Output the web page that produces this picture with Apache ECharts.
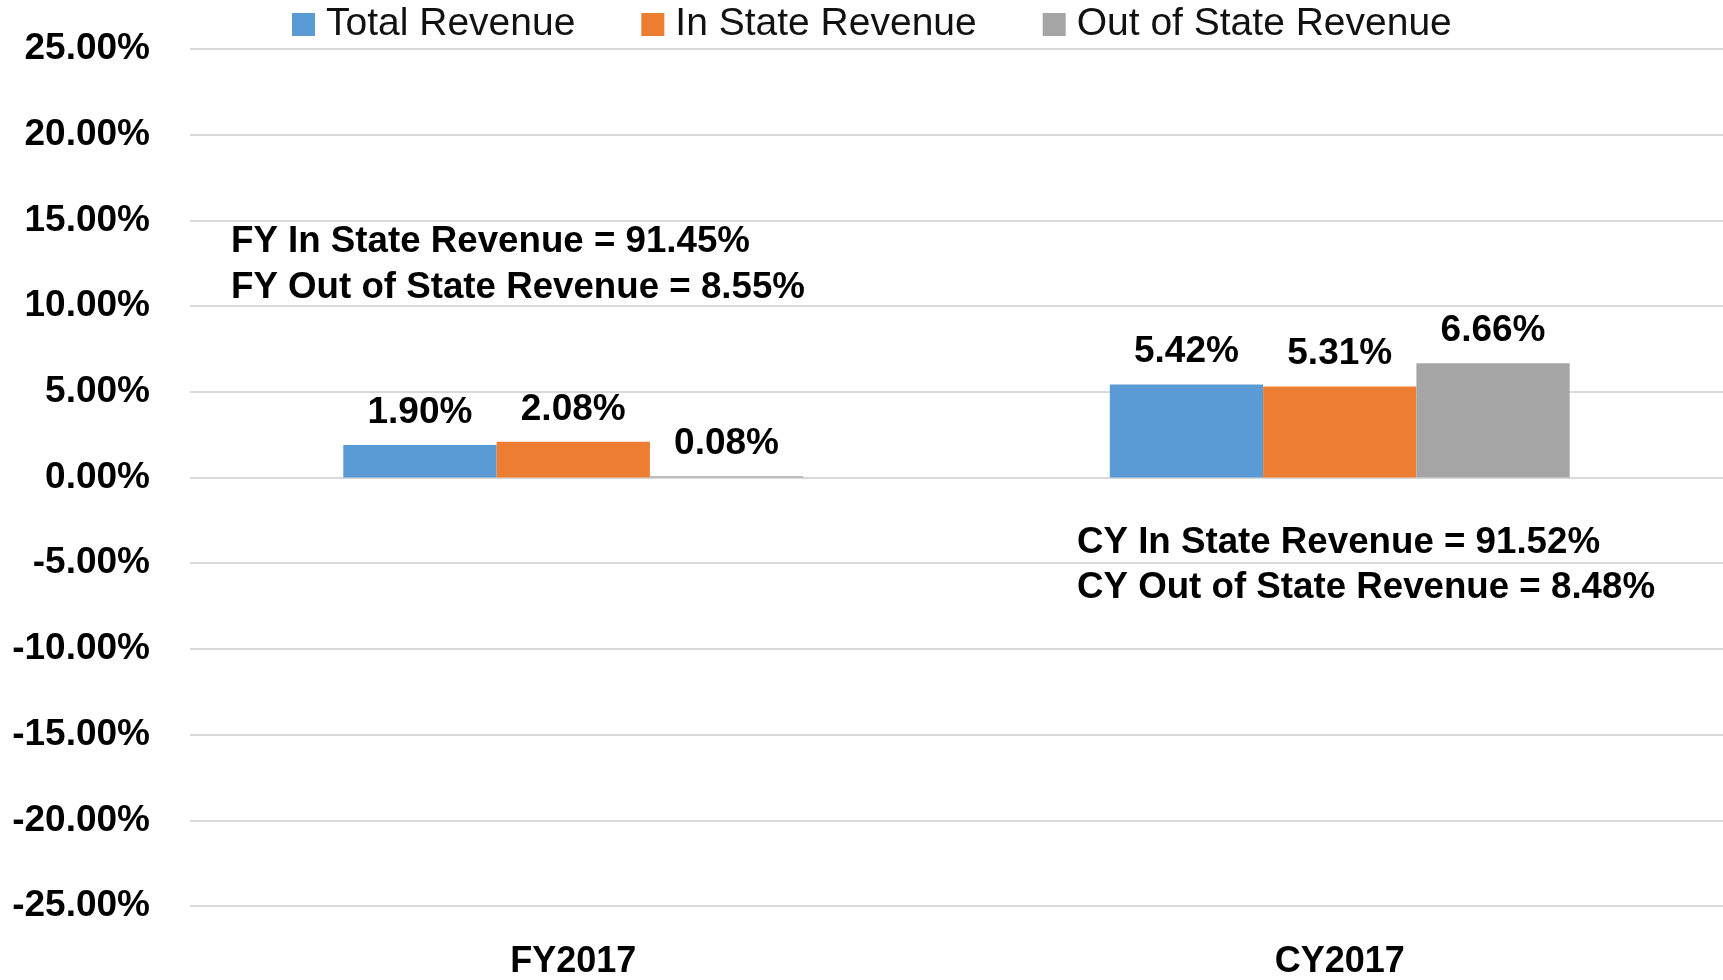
<!DOCTYPE html>
<html>
<head>
<meta charset="utf-8">
<script src="https://cdn.jsdelivr.net/npm/echarts@6/dist/echarts.min.js"></script>
<style>
html,body{margin:0;padding:0;background:#fff;}
#chart{width:1723px;height:980px;}
</style>
</head>
<body>
<div id="chart"></div>
<script>
const categories = ['FY2017', 'CY2017'];
const seriesNames = ['Total Revenue', 'In State Revenue', 'Out of State Revenue'];
const totalRevenue = [1.90, 5.42];
const inStateRevenue = [2.08, 5.31];
const outOfStateRevenue = [0.08, 6.66];
const annotationsFY = ['FY In State Revenue = 91.45%', 'FY Out of State Revenue = 8.55%'];
const annotationsCY = ['CY In State Revenue = 91.52%', 'CY Out of State Revenue = 8.48%'];

const colors = ['#5B9BD5', '#ED7D31', '#A5A5A5'];
const FONT = '"Liberation Sans", Arial, sans-serif';

const chart = echarts.init(document.getElementById('chart'));

function barSeries(name, data, color) {
  return {
    name: name,
    type: 'bar',
    data: data,
    barGap: '0%',
    barCategoryGap: '40%',
    itemStyle: { color: color },
    label: {
      show: true,
      position: 'top',
      distance: 14,
      formatter: p => p.value.toFixed(2) + '%',
      fontFamily: FONT,
      fontWeight: 'bold',
      fontSize: 37,
      color: '#000'
    }
  };
}

function annText(x, y, t) {
  return {
    type: 'text',
    x: x, y: y,
    style: {
      text: t,
      font: 'bold 36.7px ' + FONT,
      fill: '#000',
      verticalAlign: 'middle',
      align: 'left'
    },
    z: 100
  };
}

chart.setOption({
  animation: false,
  color: colors,
  legend: {
    data: seriesNames,
    left: 292,
    top: 5,
    padding: 0,
    itemWidth: 23,
    itemHeight: 23,
    itemGap: 66,
    icon: 'rect',
    textStyle: { fontFamily: FONT, fontSize: 39, color: '#111', padding: [0, 0, 0, 6] }
  },
  grid: { left: 190, right: 0, top: 49, bottom: 70, containLabel: false },
  xAxis: {
    type: 'category',
    data: categories,
    axisLine: { show: false },
    axisTick: { show: false },
    axisLabel: {
      fontFamily: FONT, fontWeight: 'bold', fontSize: 36, color: '#000', margin: 38
    }
  },
  yAxis: {
    type: 'value',
    min: -25, max: 25, interval: 5,
    axisLine: { show: false },
    axisTick: { show: false },
    splitLine: { lineStyle: { color: '#d9d9d9', width: 2 } },
    axisLabel: {
      formatter: v => v.toFixed(2) + '%',
      fontFamily: FONT, fontWeight: 'bold', fontSize: 37, color: '#000', margin: 40
    }
  },
  series: [
    barSeries(seriesNames[0], totalRevenue, colors[0]),
    barSeries(seriesNames[1], inStateRevenue, colors[1]),
    barSeries(seriesNames[2], outOfStateRevenue, colors[2])
  ],
  graphic: [
    annText(231, 242, annotationsFY[0]),
    annText(231, 288, annotationsFY[1]),
    annText(1077, 543, annotationsCY[0]),
    annText(1077, 588, annotationsCY[1])
  ]
});
</script>
</body>
</html>
